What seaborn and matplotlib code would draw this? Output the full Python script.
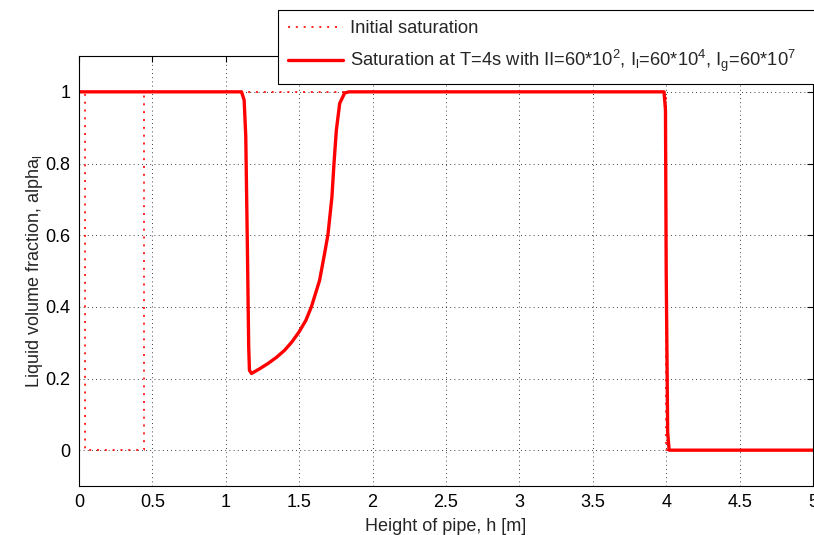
import matplotlib
matplotlib.use("Agg")
import matplotlib.pyplot as plt
import seaborn as sns
import pandas as pd

# initial saturation profile
h_init = [0.0, 0.04, 0.04, 0.44, 0.44, 4.0, 4.0, 5.0]
alpha_init = [1.0, 1.0, 0.0, 0.0, 1.0, 1.0, 0.0, 0.0]

# saturation at T=4s
h_sat = [0.0, 1.107, 1.125, 1.136, 1.147, 1.156, 1.161, 1.175, 1.23, 1.288,
         1.345, 1.401, 1.45, 1.499, 1.545, 1.583, 1.639, 1.673, 1.696, 1.723,
         1.737, 1.753, 1.776, 1.81, 1.84, 3.985, 3.995, 4.00, 4.01, 4.02, 5.0]
alpha_sat = [1.0, 1.0, 0.977, 0.876, 0.567, 0.288, 0.223, 0.214, 0.227, 0.242,
             0.259, 0.279, 0.302, 0.330, 0.362, 0.400, 0.474, 0.549, 0.602, 0.707,
             0.800, 0.893, 0.968, 0.997, 1.0, 1.0, 0.95, 0.5, 0.05, 0.0, 0.0]

sns.set_style("white")
plt.rcParams['font.family'] = ['Liberation Sans', 'DejaVu Sans']
plt.rcParams['mathtext.fontset'] = 'custom'
plt.rcParams['mathtext.rm'] = 'Liberation Sans'
plt.rcParams['mathtext.it'] = 'Liberation Sans'

df_init = pd.DataFrame({"h": h_init, "alpha": alpha_init})
df_sat = pd.DataFrame({"h": h_sat, "alpha": alpha_sat})

fig = plt.figure(figsize=(8.14, 5.35), dpi=100)
ax = fig.add_axes([79/814, 1-486/535, 734/814, 430/535])

sns.lineplot(data=df_init, x="h", y="alpha", ax=ax, sort=False, estimator=None,
             color="red", linestyle=(0, (1.2, 3.5)), linewidth=1.2,
             label="Initial saturation")
sns.lineplot(data=df_sat, x="h", y="alpha", ax=ax, sort=False, estimator=None,
             color="red", linewidth=2.4,
             label=r"Saturation at T=4s with II=60*10$^2$, I$_\mathrm{l}$=60*10$^4$, I$_\mathrm{g}$=60*10$^7$")

ax.set_xlim(0, 5)
ax.set_ylim(-0.1, 1.1)
ax.set_xticks([0, 0.5, 1, 1.5, 2, 2.5, 3, 3.5, 4, 4.5, 5])
ax.set_xticklabels(["0", "0.5", "1", "1.5", "2", "2.5", "3", "3.5", "4", "4.5", "5"])
ax.set_yticks([0, 0.2, 0.4, 0.6, 0.8, 1])
ax.set_yticklabels(["0", "0.2", "0.4", "0.6", "0.8", "1"])
ax.tick_params(direction="in", top=True, right=True, length=4, labelsize=13, colors="black", pad=6)
ax.grid(True, color="black", linestyle=(0, (1, 4)), linewidth=0.6)
for s in ax.spines.values():
    s.set_color("black")
    s.set_linewidth(0.8)
ax.set_xlabel("Height of pipe, h [m]", fontsize=13, labelpad=5)
ax.set_ylabel(r"Liquid volume fraction, alpha$_\mathrm{l}$", fontsize=13, labelpad=0.5)

leg = ax.legend(loc="upper left", bbox_to_anchor=(278/814, 1-10/535, 538/814, 0),
                bbox_transform=fig.transFigure, borderaxespad=0, fontsize=13.2,
                mode="expand", handlelength=3.0, handletextpad=0.4, frameon=True,
                fancybox=False, framealpha=1, edgecolor="black", borderpad=0.55,
                labelspacing=0.6)
leg.get_frame().set_linewidth(0.8)

fig.savefig("out.png", dpi=100)
